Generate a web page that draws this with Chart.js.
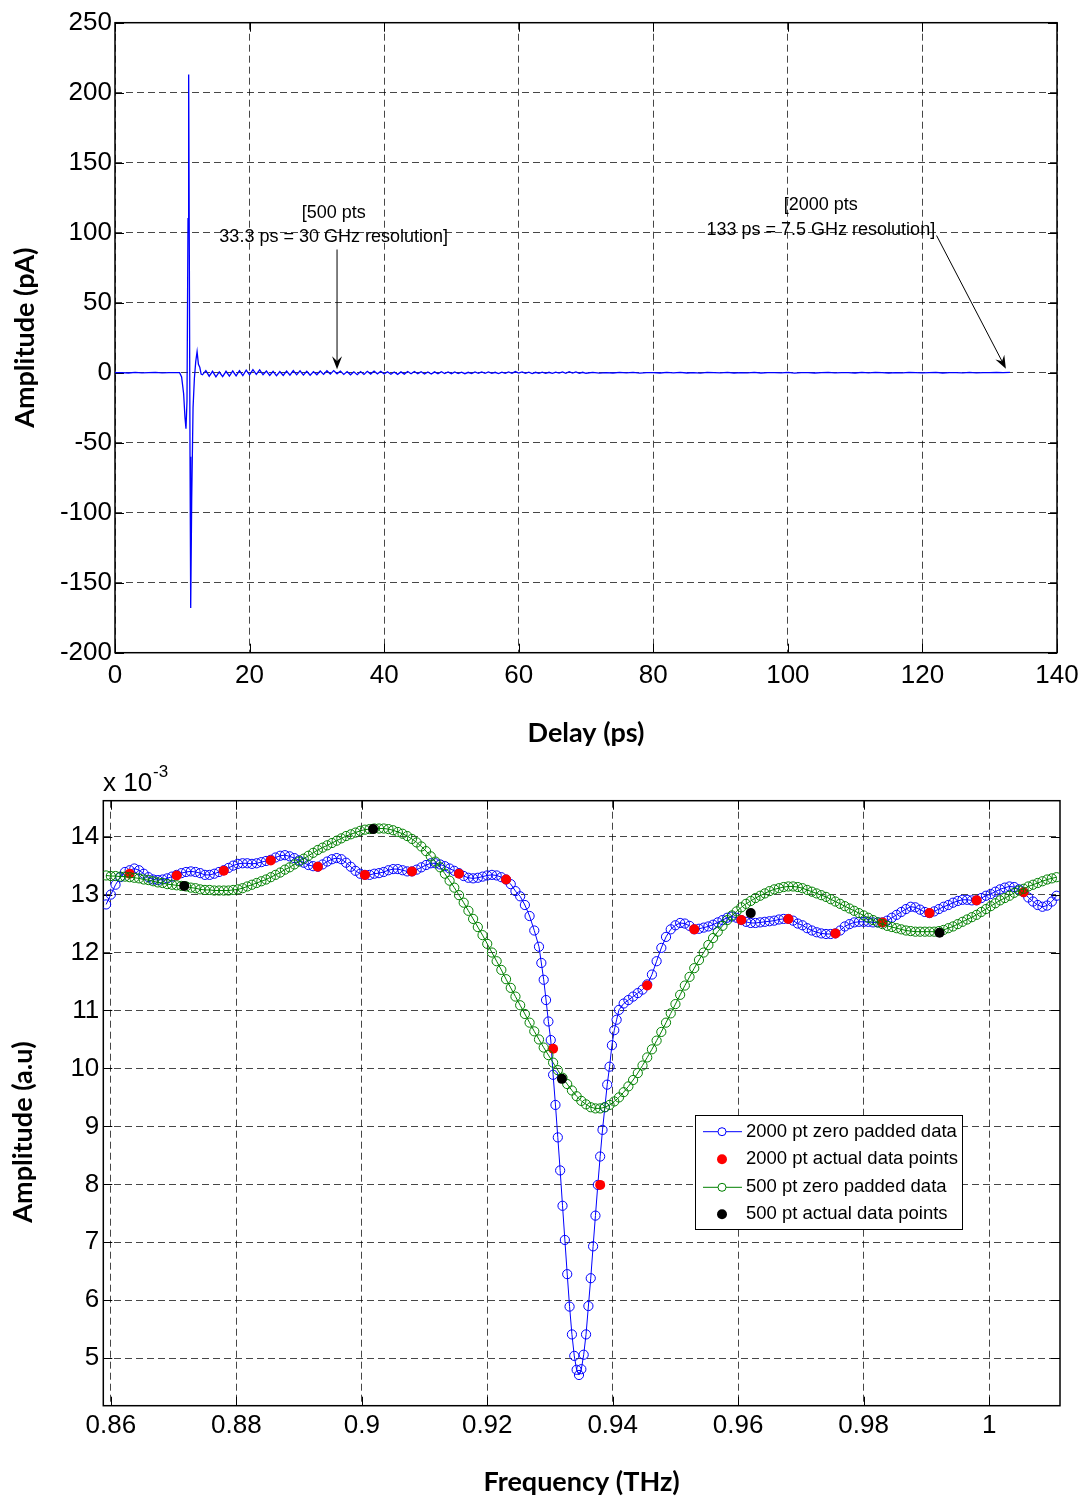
<!DOCTYPE html>
<html>
<head>
<meta charset="utf-8">
<script src="https://cdn.jsdelivr.net/npm/chart.js@4.4.0/dist/chart.umd.min.js"></script>
<style>
  html, body { margin: 0; padding: 0; background: #fff; }
  #wrap { position: relative; width: 1087px; height: 1501px; }
  #wrap canvas { position: absolute; left: 0; }
  #timeChart { top: 0; }
  #specChart { top: 760px; }
</style>
</head>
<body>
<div id="wrap">
  <canvas id="timeChart" width="1087" height="760"></canvas>
  <canvas id="specChart" width="1087" height="741"></canvas>
</div>
<script>
// ---------- top plot: time trace ----------
var pulseDelay = [0, 1, 2, 3, 4, 5, 6, 7, 8, 9, 9.6, 9.9, 10.2, 10.4, 10.55, 10.7, 10.85, 10.95, 11.05, 11.15, 11.25, 11.4, 11.6, 11.8, 12.0, 12.2, 12.4, 12.6, 12.8];
var pulseAmp = [0, 0.1, -0.2, 0.3, -0.1, 0.1, 0.2, -0.1, 0, 0.1, 0, -3, -15, -32, -40, -20, 110, 213, 80, -60, -168, -90, -25, -4, 8, 15, 6, 4, -1];

var ringDelay = [
  13, 13.5, 14, 14.5, 15, 15.5, 16, 16.5, 17, 17.5,
  18, 18.5, 19, 19.5, 20, 20.5, 21, 21.5, 22, 22.5,
  23, 23.5, 24, 24.5, 25, 25.5, 26, 26.5, 27, 27.5,
  28, 28.5, 29, 29.5, 30, 30.5, 31, 31.5, 32, 32.5,
  33, 33.5, 34, 34.5, 35, 35.5, 36, 36.5, 37, 37.5,
  38, 38.5, 39, 39.5, 40, 40.5, 41, 41.5, 42, 42.5,
  43, 43.5, 44, 44.5, 45, 45.5, 46, 46.5, 47, 47.5,
  48, 48.5, 49, 49.5, 50, 50.5, 51, 51.5, 52, 52.5,
  53, 53.5, 54, 54.5, 55, 55.5, 56, 56.5, 57, 57.5,
  58, 58.5, 59, 59.5, 60, 60.5, 61, 61.5, 62, 62.5,
  63, 63.5, 64, 64.5, 65, 65.5, 66, 66.5, 67, 67.5,
  68, 68.5, 69, 69.5, 70,
  71, 72, 73, 74, 75, 76, 77, 78, 79, 80,
  81, 82, 83, 84, 85, 86, 87, 88, 89, 90,
  91, 92, 93, 94, 95, 96, 97, 98, 99, 100,
  101, 102, 103, 104, 105, 106, 107, 108, 109, 110,
  111, 112, 113, 114, 115, 116, 117, 118, 119, 120,
  121, 122, 123, 124, 125, 126, 127, 128, 129, 130,
  131, 132, 133
];
var ringAmp = [
  -1.5, 1.5, -2.5, 1, -3, 0.5, -2.8, 1, -2.5, 1.2,
  -2.2, 1.5, -2, 1.8, -1.5, 2.2, -1.2, 2, -1.5, 1.2,
  -2, 1, -2.2, 0.8, -2, 1.2, -1.8, 1.5, -1.5, 1.3,
  -1.7, 1, -1.8, 0.8, -1.5, 1.2, -1.2, 1.4, -1, 1.5,
  -0.8, 1.2, -1.2, 0.8, -1.5, 0.6, -1.4, 0.8, -1.2, 1,
  -1, 1.2, -0.8, 1, -0.9, 0.7, -1.1, 0.5, -1.2, 0.6,
  -1, 0.8, -0.8, 0.9, -0.7, 0.7, -0.9, 0.5, -1, 0.6,
  -0.8, 0.7, -0.6, 0.6, -0.7, 0.5, -0.6, 0.4, -0.7, 0.3,
  -0.6, 0.5, -0.5, 0.6, -0.4, 0.5, -0.5, 0.3, -0.6, 0.4,
  -0.5, 0.6, -0.4, 0.8, -0.3, 0.6, -0.5, 0.4, -0.6, 0.3,
  -0.5, 0.4, -0.4, 0.3, -0.5, 0.4, -0.3, 0.6, -0.4, 0.7,
  -0.3, 0.5, -0.4, 0.3, -0.4,
  0.2, -0.3, 0.1, -0.2, 0.3, -0.1, 0.2, -0.3, 0.1, 0,
  -0.2, 0.2, -0.1, 0.3, -0.2, 0.1, -0.3, 0.2, 0, -0.1,
  0.2, -0.2, 0.1, -0.1, 0.3, -0.2, 0, 0.1, -0.1, 0.2,
  -0.3, 0.1, 0, -0.2, 0.1, 0.2, -0.1, 0, 0.1, -0.2,
  0.3, -0.1, 0.2, 0, -0.2, 0.1, -0.1, 0.2, 0, -0.1,
  0.1, 0.2, -0.2, 0, 0.1, -0.1, 0.2, -0.1, 0.1, 0,
  0.2, 0.1, 0.3
];

var delayTicks = [0, 20, 40, 60, 80, 100, 120, 140];
var ampTicks = [-200, -150, -100, -50, 0, 50, 100, 150, 200, 250];

// text + arrow notes on the time trace (data coords)
var notes = [
  {lines: ['[500 pts', '33.3 ps = 30 GHz resolution]'], x: 32.5, y: [114, 97], from: [33, 88], to: [33, 2.4]},
  {lines: ['[2000 pts', '133 ps = 7.5 GHz resolution]'], x: 104.9, y: [120, 102], from: [122.1, 98], to: [132.4, 2.9]}
];

// ---------- bottom plot: spectrum ----------
var padFreq = [
  0.85925, 0.86, 0.86075, 0.8615, 0.86225, 0.863, 0.86375, 0.8645,
  0.86525, 0.866, 0.86675, 0.8675, 0.86825, 0.869, 0.86975, 0.8705,
  0.87125, 0.872, 0.87275, 0.8735, 0.87425, 0.875, 0.87575, 0.8765,
  0.87725, 0.878, 0.87875, 0.8795, 0.88025, 0.881, 0.88175, 0.8825,
  0.88325, 0.884, 0.88475, 0.8855, 0.88625, 0.887, 0.88775, 0.8885,
  0.88925, 0.89, 0.89075, 0.8915, 0.89225, 0.893, 0.89375, 0.8945,
  0.89525, 0.896, 0.89675, 0.8975, 0.89825, 0.899, 0.89975, 0.9005,
  0.90125, 0.902, 0.90275, 0.9035, 0.90425, 0.905, 0.90575, 0.9065,
  0.90725, 0.908, 0.90875, 0.9095, 0.91025, 0.911, 0.91175, 0.9125,
  0.91325, 0.914, 0.91475, 0.9155, 0.91625, 0.917, 0.91775, 0.9185,
  0.91925, 0.92, 0.92075, 0.9215, 0.92225, 0.923, 0.92375, 0.9245,
  0.92525, 0.926, 0.92675, 0.9275, 0.92825, 0.929, 0.92975, 0.9305,
  0.93125, 0.932, 0.93275, 0.9335, 0.93425, 0.935, 0.93575, 0.9365,
  0.93725, 0.938, 0.93875, 0.9395, 0.94025, 0.941, 0.94175, 0.9425,
  0.94325, 0.944, 0.94475, 0.9455, 0.94625, 0.947, 0.94775, 0.9485,
  0.94925, 0.95, 0.95075, 0.9515, 0.95225, 0.953, 0.95375, 0.9545,
  0.95525, 0.956, 0.95675, 0.9575, 0.95825, 0.959, 0.95975, 0.9605,
  0.96125, 0.962, 0.96275, 0.9635, 0.96425, 0.965, 0.96575, 0.9665,
  0.96725, 0.968, 0.96875, 0.9695, 0.97025, 0.971, 0.97175, 0.9725,
  0.97325, 0.974, 0.97475, 0.9755, 0.97625, 0.977, 0.97775, 0.9785,
  0.97925, 0.98, 0.98075, 0.9815, 0.98225, 0.983, 0.98375, 0.9845,
  0.98525, 0.986, 0.98675, 0.9875, 0.98825, 0.989, 0.98975, 0.9905,
  0.99125, 0.992, 0.99275, 0.9935, 0.99425, 0.995, 0.99575, 0.9965,
  0.99725, 0.998, 0.99875, 0.9995, 1.00025, 1.001, 1.00175, 1.0025,
  1.00325, 1.004, 1.00475, 1.0055, 1.00625, 1.007, 1.00775, 1.0085,
  1.00925, 1.01, 1.01075
];
// the steep part of the 2000 pt curve where the markers sit apart
var dipFreq = [
  0.928625, 0.929, 0.929375, 0.92975, 0.930125, 0.9305, 0.930875, 0.93125,
  0.931625, 0.932, 0.932375, 0.93275, 0.933125, 0.9335, 0.933875, 0.93425,
  0.934625, 0.935, 0.935375, 0.93575, 0.936125, 0.9365, 0.936875, 0.93725,
  0.937625, 0.938, 0.938375, 0.93875, 0.939125, 0.9395, 0.939875, 0.94025,
  0.940625, 0.941
];

var blueAmpLow = [
  12.83, 13.00, 13.17, 13.30, 13.39, 13.42, 13.45, 13.42,
  13.36, 13.30, 13.26, 13.25, 13.26, 13.28, 13.31, 13.34,
  13.37, 13.39, 13.40, 13.39, 13.37, 13.34, 13.34, 13.36,
  13.39, 13.42, 13.46, 13.50, 13.53, 13.54, 13.54, 13.53,
  13.54, 13.56, 13.58, 13.60, 13.64, 13.67, 13.68, 13.66,
  13.63, 13.59, 13.55, 13.51, 13.49, 13.48, 13.52, 13.57,
  13.61, 13.63, 13.61, 13.55, 13.48, 13.41, 13.36, 13.34,
  13.34, 13.36, 13.37, 13.39, 13.42, 13.44, 13.44, 13.42,
  13.40, 13.40, 13.43, 13.47, 13.51, 13.54, 13.54, 13.52,
  13.49, 13.45, 13.41, 13.37, 13.32, 13.29, 13.28, 13.29,
  13.31, 13.33, 13.34, 13.33, 13.30, 13.26, 13.18, 13.06,
  12.97, 12.82, 12.63, 12.38, 12.10
];
var blueAmpDip = [
  11.82, 11.53, 11.18, 10.81, 10.49, 9.89, 9.37, 8.81,
  8.24, 7.63, 7.04, 6.45, 5.89, 5.41, 5.04, 4.80,
  4.71, 4.81, 5.06, 5.41, 5.90, 6.38, 6.93, 7.46,
  7.99, 8.48, 8.94, 9.33, 9.72, 10.03, 10.40, 10.66,
  10.84, 11.01
];
var blueAmpHigh = [
  11.12, 11.18,
  11.24, 11.30, 11.36, 11.45, 11.62, 11.85, 12.08, 12.27,
  12.40, 12.47, 12.51, 12.50, 12.46, 12.40, 12.41, 12.43,
  12.45, 12.48, 12.52, 12.56, 12.60, 12.62, 12.60, 12.56,
  12.53, 12.51, 12.51, 12.52, 12.53, 12.54, 12.55, 12.57,
  12.58, 12.58, 12.55, 12.50, 12.47, 12.42, 12.38, 12.35,
  12.33, 12.32, 12.32, 12.33, 12.38, 12.45, 12.49, 12.52,
  12.53, 12.53, 12.53, 12.52, 12.52, 12.52, 12.55, 12.60,
  12.65, 12.70, 12.75, 12.79, 12.78, 12.74, 12.70, 12.68,
  12.71, 12.75, 12.79, 12.82, 12.86, 12.89, 12.91, 12.91,
  12.90, 12.90, 12.94, 12.98, 13.01, 13.05, 13.09, 13.12,
  13.14, 13.13, 13.09, 13.04, 12.95, 12.88, 12.82, 12.79,
  12.81, 12.88, 12.98
];

var greenAmp = [
  13.33, 13.32, 13.32, 13.31, 13.31, 13.30, 13.29, 13.28,
  13.26, 13.25, 13.23, 13.21, 13.20, 13.18, 13.17, 13.16,
  13.15, 13.14, 13.12, 13.11, 13.09, 13.08, 13.08, 13.07,
  13.07, 13.07, 13.07, 13.08, 13.09, 13.11, 13.14, 13.17,
  13.20, 13.23, 13.26, 13.30, 13.34, 13.38, 13.43, 13.47,
  13.52, 13.57, 13.62, 13.67, 13.72, 13.77, 13.81, 13.85,
  13.89, 13.93, 13.97, 14.01, 14.04, 14.07, 14.10, 14.12,
  14.13, 14.14, 14.14, 14.14, 14.13, 14.11, 14.08, 14.05,
  14.01, 13.96, 13.90, 13.83, 13.75, 13.66, 13.57, 13.47,
  13.36, 13.24, 13.12, 12.99, 12.86, 12.72, 12.58, 12.44,
  12.30, 12.15, 12.00, 11.85, 11.70, 11.54, 11.39, 11.24,
  11.09, 10.94, 10.79, 10.64, 10.50, 10.36, 10.23, 10.10,
  9.97, 9.84, 9.73, 9.62, 9.52, 9.44, 9.38, 9.33,
  9.31, 9.31, 9.33, 9.37, 9.43, 9.50, 9.59, 9.69,
  9.80, 9.92, 10.05, 10.19, 10.33, 10.48, 10.63, 10.79,
  10.95, 11.11, 11.27, 11.43, 11.58, 11.73, 11.87, 12.00,
  12.13, 12.25, 12.36, 12.46, 12.56, 12.64, 12.71, 12.78,
  12.84, 12.89, 12.94, 12.98, 13.02, 13.06, 13.09, 13.11,
  13.13, 13.14, 13.14, 13.13, 13.11, 13.08, 13.05, 13.02,
  12.99, 12.96, 12.92, 12.88, 12.84, 12.80, 12.76, 12.72,
  12.68, 12.64, 12.60, 12.56, 12.52, 12.49, 12.46, 12.44,
  12.42, 12.40, 12.38, 12.37, 12.36, 12.36, 12.36, 12.36,
  12.36, 12.37, 12.39, 12.42, 12.45, 12.49, 12.53, 12.57,
  12.61, 12.65, 12.70, 12.75, 12.80, 12.85, 12.90, 12.94,
  12.98, 13.03, 13.07, 13.10, 13.14, 13.17, 13.20, 13.23,
  13.26, 13.28, 13.30
];

var redFreq = [0.863, 0.8705, 0.878, 0.8855, 0.893, 0.9005, 0.908, 0.9155, 0.923, 0.9305,
               0.938, 0.9455, 0.953, 0.9605, 0.968, 0.9755, 0.983, 0.9905, 0.998, 1.0055];
var redAmp = [13.36, 13.33, 13.41, 13.59, 13.48, 13.34, 13.40, 13.36, 13.26, 10.34,
              7.99, 11.43, 12.40, 12.56, 12.58, 12.33, 12.52, 12.68, 12.90, 13.04];

var blackFreq = [0.8717, 0.9018, 0.9319, 0.962, 0.9921];
var blackAmp = [13.15, 14.13, 9.82, 12.68, 12.34];

var freqTicks = [0.86, 0.88, 0.9, 0.92, 0.94, 0.96, 0.98, 1];
var freqTickLabels = ['0.86', '0.88', '0.9', '0.92', '0.94', '0.96', '0.98', '1'];
var specTicks = [5, 6, 7, 8, 9, 10, 11, 12, 13, 14];

var legendLabels = ['2000 pt zero padded data', '2000 pt actual data points', '500 pt zero padded data', '500 pt actual data points'];

// ---------- helpers ----------
var TICK_FONT = {family: "'Liberation Sans', Arial, sans-serif", size: 26};
var TITLE_FONT = {family: "Lato, 'Open Sans', sans-serif", size: 27, weight: 'bold'};
var GRID = {color: 'rgba(0,0,0,0.72)', lineWidth: 1, drawTicks: false};

function pts(xs, ys) {
    var out = [];
    for (var i = 0; i < xs.length; i++) out.push({x: xs[i], y: ys[i]});
    return out;
}

// box round the axes + small inner tick marks, like matlab
var framePlugin = {
    id: 'frame',
    beforeDatasetsDraw: function(chart) {
        var ctx = chart.ctx, a = chart.chartArea, sx = chart.scales.x, sy = chart.scales.y;
        ctx.save();
        ctx.strokeStyle = '#000';
        ctx.lineWidth = 1;
        ctx.beginPath();
        sx.ticks.forEach(function(t) {
            var px = Math.round(sx.getPixelForValue(t.value)) + 0.5;
            ctx.moveTo(px, a.bottom); ctx.lineTo(px, a.bottom - 9);
            ctx.moveTo(px, a.top); ctx.lineTo(px, a.top + 9);
        });
        sy.ticks.forEach(function(t) {
            var py = Math.round(sy.getPixelForValue(t.value)) + 0.5;
            ctx.moveTo(a.left, py); ctx.lineTo(a.left + 9, py);
            ctx.moveTo(a.right, py); ctx.lineTo(a.right - 9, py);
        });
        ctx.stroke();
        ctx.lineWidth = 1.5;
        ctx.strokeRect(a.left, a.top, a.right - a.left, a.bottom - a.top);
        ctx.restore();
    }
};

function drawArrow(ctx, x0, y0, x1, y1) {
    var ang = Math.atan2(y1 - y0, x1 - x0);
    var len = 13, half = 5;
    var c = Math.cos(ang), s = Math.sin(ang);
    var bx = x1 - len * c, by = y1 - len * s;
    var nx = x1 - 0.65 * len * c, ny = y1 - 0.65 * len * s;
    ctx.beginPath();
    ctx.moveTo(x0, y0);
    ctx.lineTo(nx, ny);
    ctx.stroke();
    ctx.beginPath();
    ctx.moveTo(x1, y1);
    ctx.lineTo(bx + half * s, by - half * c);
    ctx.lineTo(nx, ny);
    ctx.lineTo(bx - half * s, by + half * c);
    ctx.closePath();
    ctx.fill();
}

var notesPlugin = {
    id: 'notes',
    afterDatasetsDraw: function(chart) {
        var ctx = chart.ctx, sx = chart.scales.x, sy = chart.scales.y;
        ctx.save();
        ctx.fillStyle = '#000';
        ctx.strokeStyle = '#000';
        ctx.lineWidth = 1;
        ctx.font = "18px 'Liberation Sans', Arial, sans-serif";
        ctx.textAlign = 'center';
        ctx.textBaseline = 'middle';
        notes.forEach(function(n) {
            n.lines.forEach(function(txt, i) {
                ctx.fillText(txt, sx.getPixelForValue(n.x), sy.getPixelForValue(n.y[i]));
            });
            drawArrow(ctx, sx.getPixelForValue(n.from[0]), sy.getPixelForValue(n.from[1]),
                      sx.getPixelForValue(n.to[0]), sy.getPixelForValue(n.to[1]));
        });
        ctx.restore();
    }
};

var specLabelsPlugin = {
    id: 'specLabels',
    afterDraw: function(chart) {
        var ctx = chart.ctx;
        ctx.save();
        ctx.fillStyle = '#000';
        // exponent label
        ctx.textAlign = 'left';
        ctx.textBaseline = 'alphabetic';
        ctx.font = "26px 'Liberation Sans', Arial, sans-serif";
        ctx.fillText('x 10', 103, 31);
        ctx.font = "17px 'Liberation Sans', Arial, sans-serif";
        ctx.fillText('-3', 153, 17);
        // y axis title (sits a bit low in the original)
        ctx.translate(23, 372);
        ctx.rotate(-Math.PI / 2);
        ctx.textAlign = 'center';
        ctx.textBaseline = 'middle';
        ctx.font = "bold 27px Lato, 'Open Sans', sans-serif";
        ctx.fillText('Amplitude (a.u)', 0, 0);
        ctx.restore();
    }
};

var legendPlugin = {
    id: 'specLegend',
    afterDatasetsDraw: function(chart) {
        var ctx = chart.ctx;
        var rowY = [371.7, 399.3, 427.3, 454.3];
        ctx.save();
        ctx.fillStyle = '#fff';
        ctx.fillRect(695, 355, 268, 114);
        ctx.strokeStyle = '#000';
        ctx.lineWidth = 1;
        ctx.strokeRect(695.5, 355.5, 267, 114);
        chart.data.datasets.forEach(function(ds, i) {
            var y = rowY[i];
            if (ds.showLine) {
                ctx.strokeStyle = ds.borderColor;
                ctx.beginPath();
                ctx.moveTo(703, y); ctx.lineTo(742, y);
                ctx.stroke();
                ctx.beginPath();
                ctx.arc(722, y, 4, 0, 2 * Math.PI);
                ctx.fillStyle = '#fff';
                ctx.fill();
                ctx.stroke();
            } else {
                ctx.fillStyle = ds.pointBackgroundColor;
                ctx.beginPath();
                ctx.arc(722, y, 5, 0, 2 * Math.PI);
                ctx.fill();
            }
            ctx.fillStyle = '#000';
            ctx.font = "18.5px 'Liberation Sans', Arial, sans-serif";
            ctx.textAlign = 'left';
            ctx.textBaseline = 'middle';
            ctx.fillText(ds.label, 746, y);
        });
        ctx.restore();
    }
};

// ---------- top chart ----------
var timeChart = new Chart(document.getElementById('timeChart'), {
    type: 'line',
    data: {
        datasets: [{
            label: 'trace',
            data: pts(pulseDelay.concat(ringDelay), pulseAmp.concat(ringAmp)),
            borderColor: '#0000ff',
            borderWidth: 1.3,
            pointRadius: 0,
            tension: 0,
            fill: false
        }]
    },
    options: {
        responsive: false,
        animation: false,
        devicePixelRatio: 1,
        layout: {padding: {left: 0, right: 30, top: 22.7, bottom: 0}},
        plugins: {legend: {display: false}, tooltip: {enabled: false}},
        scales: {
            x: {
                type: 'linear', min: 0, max: 140,
                afterBuildTicks: function(s) { s.ticks = delayTicks.map(function(v) { return {value: v}; }); },
                afterFit: function(s) { s.height = 107.3; },
                ticks: {font: TICK_FONT, color: '#000', padding: 8, autoSkip: false, maxRotation: 0},
                grid: GRID,
                border: {display: false, dash: [7, 4]},
                title: {display: true, text: 'Delay (ps)', font: TITLE_FONT, color: '#000', padding: {top: 0, bottom: 11}}
            },
            y: {
                type: 'linear', min: -200, max: 250,
                afterBuildTicks: function(s) { s.ticks = ampTicks.map(function(v) { return {value: v}; }); },
                afterFit: function(s) { s.width = 115; },
                ticks: {font: TICK_FONT, color: '#000', padding: 3, autoSkip: false},
                grid: GRID,
                border: {display: false, dash: [7, 4]},
                title: {display: true, text: 'Amplitude (pA)', font: TITLE_FONT, color: '#000', padding: {top: 9, bottom: 0}}
            }
        }
    },
    plugins: [framePlugin, notesPlugin]
});

// ---------- bottom chart ----------
var blueFreq = padFreq.slice(0, 93).concat(dipFreq, padFreq.slice(110));
var blueAmp = blueAmpLow.concat(blueAmpDip, blueAmpHigh);

var specChart = new Chart(document.getElementById('specChart'), {
    type: 'line',
    data: {
        datasets: [{
            label: legendLabels[0],
            data: pts(blueFreq, blueAmp),
            showLine: true,
            borderColor: '#0000ff',
            borderWidth: 1,
            pointRadius: 4.6,
            pointBorderWidth: 1,
            pointBorderColor: '#0000ff',
            pointBackgroundColor: 'rgba(0,0,0,0)',
            tension: 0,
            order: 4
        }, {
            label: legendLabels[1],
            data: pts(redFreq, redAmp),
            showLine: false,
            pointRadius: 5,
            pointBorderWidth: 0,
            pointBackgroundColor: '#ff0000',
            pointBorderColor: '#ff0000',
            order: 3
        }, {
            label: legendLabels[2],
            data: pts(padFreq, greenAmp),
            showLine: true,
            borderColor: '#008000',
            borderWidth: 1,
            pointRadius: 4.6,
            pointBorderWidth: 1,
            pointBorderColor: '#008000',
            pointBackgroundColor: 'rgba(0,0,0,0)',
            tension: 0,
            order: 2
        }, {
            label: legendLabels[3],
            data: pts(blackFreq, blackAmp),
            showLine: false,
            pointRadius: 5,
            pointBorderWidth: 0,
            pointBackgroundColor: '#000000',
            pointBorderColor: '#000000',
            order: 1
        }]
    },
    options: {
        responsive: false,
        animation: false,
        devicePixelRatio: 1,
        layout: {padding: {left: 0, right: 27, top: 40.7, bottom: 0}},
        plugins: {legend: {display: false}, tooltip: {enabled: false}},
        scales: {
            x: {
                type: 'linear', min: 0.8588, max: 1.0113,
                afterBuildTicks: function(s) { s.ticks = freqTicks.map(function(v) { return {value: v}; }); },
                afterFit: function(s) { s.height = 95.3; },
                ticks: {
                    font: TICK_FONT, color: '#000', padding: 5, autoSkip: false, maxRotation: 0,
                    callback: function(v, i) { return freqTickLabels[i]; }
                },
                grid: GRID,
                border: {display: false, dash: [7, 4]},
                title: {display: true, text: 'Frequency (THz)', font: TITLE_FONT, color: '#000', padding: {top: 0, bottom: 3}}
            },
            y: {
                type: 'linear', min: 4.18, max: 14.62,
                afterBuildTicks: function(s) { s.ticks = specTicks.map(function(v) { return {value: v}; }); },
                afterFit: function(s) { s.width = 103.3; },
                ticks: {font: TICK_FONT, color: '#000', padding: 4, autoSkip: false},
                grid: GRID,
                border: {display: false, dash: [7, 4]}
            }
        }
    },
    plugins: [framePlugin, legendPlugin, specLabelsPlugin]
});
</script>
</body>
</html>
